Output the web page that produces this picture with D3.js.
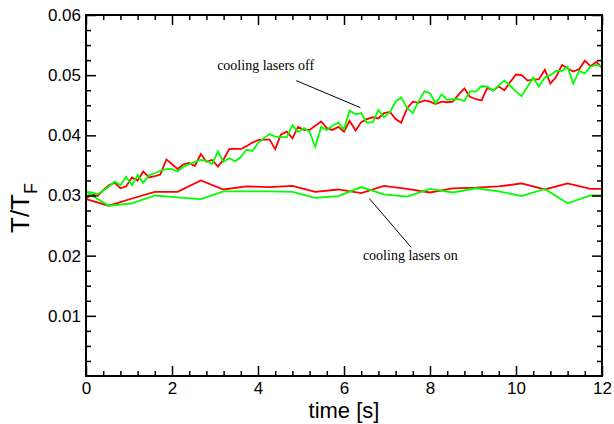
<!DOCTYPE html>
<html>
<head>
<meta charset="utf-8">
<script src="https://cdn.jsdelivr.net/npm/d3@7"></script>
<style>
  body { margin: 0; background: #fff; }
  .tick text { font-family: "Liberation Sans", Arial, sans-serif; }
</style>
</head>
<body>
<div id="vis"></div>
<script>
// Frame size
const FRAME_WIDTH = 614;
const FRAME_HEIGHT = 424;
const MARGINS = {left: 86, right: 12, top: 15, bottom: 48};
const VIS_WIDTH = FRAME_WIDTH - MARGINS.left - MARGINS.right;
const VIS_HEIGHT = FRAME_HEIGHT - MARGINS.top - MARGINS.bottom;

// "cooling lasers off" runs (dense sampling)
const OFF_TIME = [
  0, 0.13, 0.27, 0.4, 0.53, 0.67, 0.8, 0.93, 1.07, 1.2, 1.33, 1.47, 1.6, 1.73, 1.87,
  2, 2.13, 2.27, 2.4, 2.53, 2.67, 2.8, 2.93, 3.07, 3.2, 3.33, 3.47, 3.6, 3.73, 3.87,
  4, 4.13, 4.27, 4.4, 4.53, 4.67, 4.8, 4.93, 5.07, 5.2, 5.33, 5.47, 5.6, 5.73, 5.87,
  6, 6.13, 6.27, 6.4, 6.53, 6.67, 6.8, 6.93, 7.07, 7.2, 7.33, 7.47, 7.6, 7.73, 7.87,
  8, 8.13, 8.27, 8.4, 8.53, 8.67, 8.8, 8.93, 9.07, 9.2, 9.33, 9.47, 9.6, 9.73, 9.87,
  10, 10.13, 10.27, 10.4, 10.53, 10.67, 10.8, 10.93, 11.07, 11.2, 11.33, 11.47, 11.6, 11.73, 11.87,
  12
];
const OFF_RED = [
  0.0295, 0.0302, 0.0299, 0.0309, 0.0317, 0.0321, 0.0312, 0.0315, 0.0330, 0.0325, 0.0340, 0.0330, 0.0332, 0.0335, 0.0360,
  0.0352, 0.0344, 0.0352, 0.0354, 0.0349, 0.0369, 0.0356, 0.0359, 0.0348, 0.0360, 0.0377, 0.0378, 0.0377, 0.0382, 0.0388,
  0.0392, 0.0393, 0.0393, 0.0377, 0.0401, 0.0406, 0.0395, 0.0414, 0.0409, 0.0409, 0.0416, 0.0423, 0.0412, 0.0409, 0.0414,
  0.0406, 0.0424, 0.0408, 0.0422, 0.0427, 0.0430, 0.0428, 0.0437, 0.0439, 0.0427, 0.0421, 0.0445, 0.0456, 0.0454, 0.0458,
  0.0456, 0.0452, 0.0456, 0.0455, 0.0456, 0.0468, 0.0478, 0.0464, 0.0460, 0.0458, 0.0479, 0.0475, 0.0481, 0.0475, 0.0489,
  0.0501, 0.0500, 0.0491, 0.0493, 0.0493, 0.0509, 0.0486, 0.0497, 0.0517, 0.0511, 0.0506, 0.0510, 0.0524, 0.0515, 0.0522,
  0.0512
];
const OFF_GREEN = [
  0.0306, 0.0305, 0.0302, 0.0308, 0.0315, 0.0323, 0.0317, 0.0331, 0.0317, 0.0334, 0.0321, 0.0334, 0.0337, 0.0341, 0.0344,
  0.0344, 0.0340, 0.0348, 0.0352, 0.0356, 0.0359, 0.0358, 0.0352, 0.0373, 0.0356, 0.0362, 0.0357, 0.0364, 0.0376, 0.0374,
  0.0387, 0.0395, 0.0402, 0.0398, 0.0397, 0.0397, 0.0417, 0.0406, 0.0412, 0.0406, 0.0381, 0.0414, 0.0409, 0.0416, 0.0421,
  0.0410, 0.0441, 0.0435, 0.0437, 0.0421, 0.0422, 0.0442, 0.0430, 0.0439, 0.0456, 0.0463, 0.0445, 0.0437, 0.0456, 0.0473,
  0.0470, 0.0453, 0.0468, 0.0459, 0.0460, 0.0460, 0.0457, 0.0473, 0.0473, 0.0482, 0.0481, 0.0474, 0.0483, 0.0491, 0.0482,
  0.0473, 0.0465, 0.0481, 0.0496, 0.0481, 0.0496, 0.0500, 0.0507, 0.0507, 0.0514, 0.0486, 0.0507, 0.0503, 0.0514, 0.0517,
  0.0515
];

// "cooling lasers on" runs (sparse sampling)
const ON_TIME = [0, 0.53, 1.07, 1.6, 2.13, 2.67, 3.2, 3.73, 4.27, 4.8, 5.33, 5.87,
                 6.4, 6.93, 7.47, 8, 8.53, 9.07, 9.6, 10.13, 10.67, 11.2, 11.73, 12];
const ON_RED = [0.0294, 0.0283, 0.0295, 0.0306, 0.0306, 0.0325, 0.0310, 0.0315, 0.0314, 0.0316, 0.0306, 0.0310,
                0.0304, 0.0316, 0.0311, 0.0305, 0.0312, 0.0313, 0.0315, 0.0320, 0.0310, 0.0320, 0.0311, 0.0311];
const ON_GREEN = [0.0306, 0.0283, 0.0287, 0.0300, 0.0297, 0.0294, 0.0307, 0.0307, 0.0307, 0.0306, 0.0296, 0.0299,
                  0.0314, 0.0302, 0.0298, 0.0311, 0.0305, 0.0312, 0.0307, 0.0299, 0.0311, 0.0287, 0.0300, 0.0300];

// Axis ticks
const X_TICKS = [0, 2, 4, 6, 8, 10, 12];
const X_MINOR = [0.4, 0.8, 1.2, 1.6, 2.4, 2.8, 3.2, 3.6, 4.4, 4.8, 5.2, 5.6, 6.4, 6.8, 7.2, 7.6,
                 8.4, 8.8, 9.2, 9.6, 10.4, 10.8, 11.2, 11.6];
const Y_TICKS = [0.01, 0.02, 0.03, 0.04, 0.05, 0.06];
const Y_MINOR = [0.0025, 0.005, 0.0075, 0.0125, 0.015, 0.0175, 0.0225, 0.025, 0.0275,
                 0.0325, 0.035, 0.0375, 0.0425, 0.045, 0.0475, 0.0525, 0.055, 0.0575];

const SVG = d3.select("#vis")
              .append("svg")
                .attr("width", FRAME_WIDTH)
                .attr("height", FRAME_HEIGHT);

const G = SVG.append("g")
             .attr("transform", "translate(" + MARGINS.left + "," + MARGINS.top + ")");

const X_SCALE = d3.scaleLinear().domain([0, 12]).range([0, VIS_WIDTH]);
const Y_SCALE = d3.scaleLinear().domain([0, 0.06]).range([VIS_HEIGHT, 0]);

// clip so lines stay inside the frame
G.append("clipPath").attr("id", "clip")
  .append("rect").attr("width", VIS_WIDTH).attr("height", VIS_HEIGHT);

const line = d3.line()
               .x((d) => X_SCALE(d[0]))
               .y((d) => Y_SCALE(d[1]));

const SERIES = [
  {t: OFF_TIME, v: OFF_RED, color: "#ff0000"},
  {t: OFF_TIME, v: OFF_GREEN, color: "#00ff00"},
  {t: ON_TIME, v: ON_RED, color: "#ff0000"},
  {t: ON_TIME, v: ON_GREEN, color: "#00ff00"}
];

G.append("g").attr("clip-path", "url(#clip)")
  .selectAll("path")
  .data(SERIES)
  .enter()
  .append("path")
    .attr("d", (s) => line(s.t.map((t, i) => [t, s.v[i]])))
    .attr("fill", "none")
    .attr("stroke", (s) => s.color)
    .attr("stroke-width", 1.8)
    .attr("stroke-linejoin", "miter");

// helper for inward tick axes
function addAxis(axis, tx, ty, labels) {
  const g = G.append("g")
             .attr("transform", "translate(" + tx + "," + ty + ")")
             .call(axis);
  g.select(".domain").remove();
  g.selectAll(".tick line").attr("stroke", "#000").attr("stroke-width", 1.5);
  if (!labels) g.selectAll(".tick text").remove();
  return g;
}

// bottom
const xb = addAxis(d3.axisBottom(X_SCALE).tickValues(X_TICKS).tickSizeInner(-10).tickPadding(6)
                     .tickFormat(d3.format("d")), 0, VIS_HEIGHT, true);
xb.selectAll(".tick text").attr("font-size", "17px").attr("fill", "#000");
addAxis(d3.axisBottom(X_SCALE).tickValues(X_MINOR).tickSizeInner(-5), 0, VIS_HEIGHT, false);
// top
addAxis(d3.axisTop(X_SCALE).tickValues(X_TICKS).tickSizeInner(-10), 0, 0, false);
addAxis(d3.axisTop(X_SCALE).tickValues(X_MINOR).tickSizeInner(-5), 0, 0, false);
// left
const yl = addAxis(d3.axisLeft(Y_SCALE).tickValues(Y_TICKS).tickSizeInner(-10).tickPadding(5)
                     .tickFormat(d3.format(".2f")), 0, 0, true);
yl.selectAll(".tick text").attr("font-size", "17px").attr("fill", "#000");
addAxis(d3.axisLeft(Y_SCALE).tickValues(Y_MINOR).tickSizeInner(-5), 0, 0, false);
// right
addAxis(d3.axisRight(Y_SCALE).tickValues(Y_TICKS).tickSizeInner(-10), VIS_WIDTH, 0, false);
addAxis(d3.axisRight(Y_SCALE).tickValues(Y_MINOR).tickSizeInner(-5), VIS_WIDTH, 0, false);

// frame
G.append("rect")
  .attr("width", VIS_WIDTH)
  .attr("height", VIS_HEIGHT)
  .attr("fill", "none")
  .attr("stroke", "#000")
  .attr("stroke-width", 2);

// axis titles
SVG.append("text")
   .attr("x", MARGINS.left + VIS_WIDTH / 2)
   .attr("y", 418)
   .attr("text-anchor", "middle")
   .attr("font-family", "Liberation Sans, Arial, sans-serif")
   .attr("font-size", "22px")
   .text("time [s]");

const YT = SVG.append("text")
   .attr("transform", "translate(29,208) rotate(-90)")
   .attr("text-anchor", "middle")
   .attr("font-family", "Liberation Sans, Arial, sans-serif")
   .attr("font-size", "26px");
YT.append("tspan").text("T/T");
YT.append("tspan").attr("font-size", "18px").attr("dy", 8).text("F");

// annotations (anchored in data units)
const NOTES = [
  {text: "cooling lasers off", tx: 3.05, ty: 0.0509, x1: 4.89, y1: 0.0491, x2: 6.38, y2: 0.0446},
  {text: "cooling lasers on", tx: 6.44, ty: 0.0193, x1: 6.59, y1: 0.0295, x2: 7.56, y2: 0.0214}
];

G.selectAll(".note-line")
  .data(NOTES)
  .enter()
  .append("line")
    .attr("x1", (d) => X_SCALE(d.x1))
    .attr("y1", (d) => Y_SCALE(d.y1))
    .attr("x2", (d) => X_SCALE(d.x2))
    .attr("y2", (d) => Y_SCALE(d.y2))
    .attr("stroke", "#000")
    .attr("stroke-width", 1);

G.selectAll(".note-text")
  .data(NOTES)
  .enter()
  .append("text")
    .attr("x", (d) => X_SCALE(d.tx))
    .attr("y", (d) => Y_SCALE(d.ty))
    .attr("font-family", "Liberation Serif, Times New Roman, serif")
    .attr("font-size", "14px")
    .text((d) => d.text);
</script>
</body>
</html>
